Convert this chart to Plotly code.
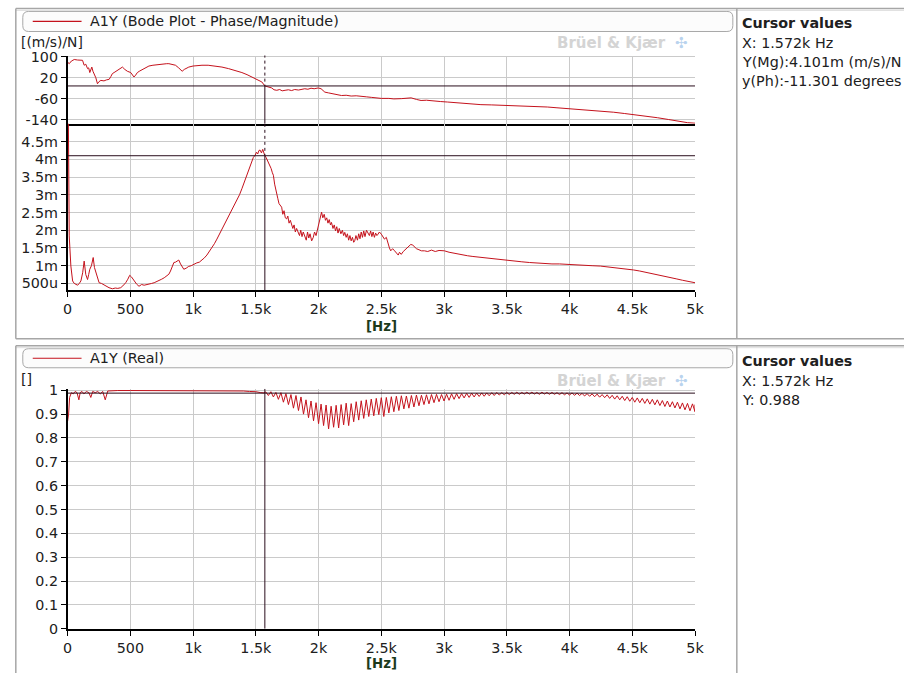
import plotly.graph_objects as go

# ---------------- DATA ----------------
x_tick_vals = [0, 500, 1000, 1500, 2000, 2500, 3000, 3500, 4000, 4500, 5000]
x_tick_text = ["0", "500", "1k", "1.5k", "2k", "2.5k", "3k", "3.5k", "4k", "4.5k", "5k"]

phase_tick_vals = [100, 20, -60, -140]
phase_tick_text = ["100", "20", "-60", "-140"]

mag_tick_vals = [0.5, 1.0, 1.5, 2.0, 2.5, 3.0, 3.5, 4.0, 4.5]
mag_tick_text = ["500u", "1m", "1.5m", "2m", "2.5m", "3m", "3.5m", "4m", "4.5m"]

real_tick_vals = [0, 0.1, 0.2, 0.3, 0.4, 0.5, 0.6, 0.7, 0.8, 0.9, 1.0]
real_tick_text = ["0", "0.1", "0.2", "0.3", "0.4", "0.5", "0.6", "0.7", "0.8", "0.9", "1"]

cursor_hz = 1572
cursor_mag = 4.101      # m (m/s)/N
cursor_phase = -11.301  # degrees
cursor_real = 0.988

phase_hz = [0, 13, 30, 53, 80, 100, 119, 132, 145, 159, 168, 177, 185, 193, 202, 211, 225, 238, 250, 265,
            290, 310, 331, 345, 357, 377, 397, 417, 437, 456, 476, 503, 515, 529, 542, 556, 575, 595, 620, 648,
            680, 710, 728, 760, 790, 807, 835, 860, 885, 900, 913, 930, 950, 966, 1000, 1040, 1071, 1120, 1177, 1230,
            1283, 1330, 1389, 1430, 1468, 1510, 1548, 1572, 1600, 1627, 1645, 1667, 1690, 1710, 1733, 1760, 1785, 1810,
            1840, 1865, 1890, 1915, 1940, 1965, 1997, 2020, 2050, 2080, 2110, 2140, 2183, 2220, 2260, 2300, 2341, 2380,
            2420, 2460, 2500, 2560, 2600, 2659, 2700, 2738, 2780, 2817, 2860, 2920, 2970, 3029, 3100, 3180, 3240, 3294,
            3380, 3460, 3558, 3650, 3740, 3823, 3900, 3990, 4087, 4170, 4260, 4352, 4440, 4530, 4616, 4700, 4790, 4881,
            4940, 5000]
phase_deg = [80, 74, 84, 90, 88, 86, 87, 68, 72, 55, 58, 40, 50, 61, 45, 36, 20, -3, 5, 10,
             8, 12, 14, 25, 36, 42, 48, 55, 61, 52, 45, 40, 32, 23, 30, 40, 46, 52, 58, 65,
             68, 70, 72, 73, 74, 74, 72, 68, 58, 50, 45, 52, 58, 61, 65, 67, 68, 68, 65, 61,
             55, 49, 40, 32, 23, 13, 4, -11.3, -15, -19, -26, -28, -25, -30, -28, -26, -29, -25,
             -27, -25, -22, -24, -20, -22, -19, -22, -35, -38, -41, -44, -48, -47, -50, -49, -50, -53,
             -55, -57, -59, -59, -61, -60, -58, -57, -63, -67, -66, -70, -71, -73, -76, -79, -81, -83,
             -84, -85, -86, -88, -90, -92, -95, -98, -101, -105, -108, -112, -117, -122, -127, -133, -140, -148,
             -152, -154]

mag_hz = [0, 13, 26, 40, 53, 66, 80, 93, 106, 120, 132, 145, 159, 168, 177, 190, 204, 214, 225, 238,
          251, 270, 290, 304, 330, 357, 380, 400, 423, 440, 463, 480, 495, 510, 529, 550, 569, 590, 610, 630,
          648, 670, 690, 710, 728, 750, 770, 790, 807, 820, 835, 847, 860, 872, 886, 900, 915, 926, 945, 965,
          985, 1005, 1030, 1050, 1071, 1090, 1110, 1130, 1151, 1170, 1190, 1210, 1230, 1250, 1270, 1290, 1310, 1330,
          1350, 1370, 1389, 1405, 1420, 1430, 1442, 1455, 1468, 1480, 1495, 1505, 1515, 1525, 1534, 1545, 1555, 1565,
          1572, 1582, 1592, 1601, 1612, 1622, 1632, 1640, 1650, 1660, 1667, 1675, 1685, 1695, 1706, 1715, 1725, 1735,
          1746, 1755, 1765, 1775, 1786, 1795, 1805, 1815, 1825, 1839, 1848, 1858, 1868, 1878, 1892, 1902, 1912, 1922,
          1932, 1945, 1958, 1968, 1980, 1992, 2005, 2015, 2024, 2034, 2045, 2055, 2065, 2075, 2085, 2095, 2103, 2115,
          2125, 2135, 2145, 2155, 2165, 2178, 2190, 2200, 2209, 2220, 2230, 2240, 2250, 2260, 2270, 2280, 2288, 2298,
          2310, 2320, 2330, 2340, 2350, 2360, 2370, 2382, 2394, 2405, 2415, 2425, 2435, 2445, 2455, 2465, 2474, 2485,
          2500, 2512, 2525, 2540, 2555, 2565, 2575, 2590, 2606, 2620, 2635, 2645, 2659, 2675, 2690, 2705, 2720, 2735,
          2751, 2765, 2780, 2800, 2820, 2844, 2870, 2900, 2930, 2960, 3003, 3040, 3080, 3120, 3150, 3188, 3230, 3280,
          3320, 3370, 3410, 3452, 3500, 3560, 3620, 3680, 3743, 3800, 3860, 3920, 4008, 4060, 4120, 4180, 4246, 4300,
          4360, 4420, 4510, 4560, 4620, 4680, 4749, 4800, 4850, 4900, 4950, 5000]
mag_m = [8.0, 1.84, 0.99, 0.57, 0.5, 0.47, 0.45, 0.5, 0.57, 0.8, 1.13, 0.75, 0.61, 0.75, 0.9, 1.0, 1.23, 0.95, 0.8, 0.62,
         0.52, 0.5, 0.46, 0.42, 0.38, 0.35, 0.37, 0.36, 0.38, 0.43, 0.52, 0.62, 0.73, 0.68, 0.57, 0.48, 0.42, 0.47, 0.45, 0.46,
         0.47, 0.5, 0.52, 0.55, 0.57, 0.62, 0.66, 0.72, 0.76, 0.85, 0.98, 1.09, 1.1, 1.12, 1.16, 1.05, 0.95, 0.9, 0.93, 0.98,
         1.0, 1.04, 1.08, 1.1, 1.16, 1.22, 1.3, 1.4, 1.51, 1.62, 1.75, 1.89, 2.03, 2.15, 2.3, 2.42, 2.55, 2.7,
         2.85, 3.0, 3.17, 3.32, 3.45, 3.58, 3.69, 3.8, 3.95, 4.05, 4.12, 4.2, 4.15, 4.25, 4.26, 4.18, 4.28, 4.12,
         4.10, 4.05, 3.98, 3.93, 3.85, 3.74, 3.62, 3.55, 3.3, 3.1, 2.98, 2.9, 2.75, 2.7, 2.65, 2.45, 2.55, 2.35,
         2.32, 2.4, 2.2, 2.28, 2.18, 2.05, 2.15, 1.95, 2.05, 1.94, 1.85, 2.0, 1.82, 1.95, 1.84, 1.72, 1.95, 1.78,
         1.9, 1.7, 1.8, 1.95, 1.85, 2.05, 2.2, 2.4, 2.51, 2.35, 2.45, 2.28, 2.35, 2.2, 2.3, 2.15, 2.22, 2.05,
         2.15, 1.98, 2.1, 1.92, 2.05, 1.9, 2.0, 1.85, 1.94, 1.8, 1.9, 1.72, 1.85, 1.7, 1.8, 1.66, 1.7, 1.85,
         1.72, 1.9, 1.76, 1.95, 1.8, 1.98, 1.82, 2.0, 1.94, 1.85, 1.98, 1.82, 1.95, 1.8, 1.92, 1.85, 1.89, 1.95,
         1.89, 1.82, 1.75, 1.8, 1.6, 1.5, 1.42, 1.48, 1.42, 1.35, 1.3, 1.38, 1.32, 1.4, 1.45, 1.5, 1.55, 1.6,
         1.58, 1.52, 1.48, 1.45, 1.42, 1.42, 1.4, 1.44, 1.4, 1.43, 1.42, 1.38, 1.35, 1.32, 1.3, 1.28, 1.26, 1.24,
         1.22, 1.2, 1.18, 1.16, 1.15, 1.13, 1.11, 1.09, 1.07, 1.06, 1.05, 1.05, 1.04, 1.03, 1.02, 1.0, 0.99, 0.97,
         0.95, 0.93, 0.88, 0.85, 0.8, 0.76, 0.71, 0.67, 0.63, 0.59, 0.56, 0.52]

# Real part: smooth low-frequency part, then a ripple (peak / trough pairs every 40 Hz)
real_low_hz = [0, 8, 16, 30, 45, 60, 75, 90, 100, 115, 130, 150, 170, 185, 200, 220, 240, 260, 280, 300,
               320, 350, 400, 500, 600, 700, 800, 900, 1000, 1100, 1200, 1300, 1400, 1450, 1500, 1540, 1565]
real_low = [0.87, 0.90, 0.97, 0.99, 0.985, 0.995, 0.99, 0.96, 0.99, 0.995, 0.985, 0.995, 0.99, 0.97, 0.995, 0.99, 0.995, 0.985, 0.995, 0.96,
            0.997, 0.998, 0.999, 0.999, 0.999, 0.999, 0.999, 0.999, 0.999, 0.998, 0.998, 0.998, 0.997, 0.995, 0.994, 0.99, 0.989]
real_peak_hz_start = 1580   # peaks every 40 Hz from here, troughs 20 Hz after each peak
real_ripple_step = 40
real_peak = [0.993, 0.994, 0.991, 0.990, 0.986, 0.982, 0.978, 0.972, 0.960, 0.955, 0.948, 0.942, 0.938, 0.933, 0.937, 0.940,
             0.946, 0.944, 0.952, 0.956, 0.960, 0.963, 0.966, 0.969, 0.970, 0.973, 0.975, 0.977, 0.976, 0.978, 0.980, 0.979,
             0.981, 0.982, 0.983, 0.982, 0.984, 0.985, 0.986, 0.986, 0.987, 0.988, 0.988, 0.989, 0.989, 0.990, 0.991, 0.990,
             0.991, 0.991, 0.992, 0.991, 0.992, 0.992, 0.991, 0.992, 0.991, 0.991, 0.990, 0.990, 0.989, 0.989, 0.988, 0.987,
             0.986, 0.985, 0.984, 0.982, 0.981, 0.979, 0.977, 0.975, 0.973, 0.970, 0.968, 0.966, 0.964, 0.962, 0.960, 0.957,
             0.955, 0.952, 0.950, 0.947, 0.945, 0.943]
real_trough = [0.978, 0.972, 0.962, 0.950, 0.940, 0.925, 0.915, 0.900, 0.885, 0.872, 0.860, 0.852, 0.838, 0.845, 0.842, 0.855,
               0.852, 0.868, 0.875, 0.882, 0.890, 0.893, 0.898, 0.890, 0.905, 0.910, 0.915, 0.922, 0.925, 0.930, 0.935, 0.940,
               0.943, 0.948, 0.952, 0.955, 0.958, 0.962, 0.965, 0.968, 0.970, 0.972, 0.974, 0.975, 0.977, 0.978, 0.980, 0.981,
               0.982, 0.983, 0.983, 0.984, 0.984, 0.984, 0.983, 0.984, 0.983, 0.983, 0.982, 0.981, 0.980, 0.979, 0.978, 0.976,
               0.975, 0.973, 0.971, 0.969, 0.966, 0.963, 0.960, 0.957, 0.954, 0.950, 0.948, 0.945, 0.942, 0.939, 0.936, 0.932,
               0.930, 0.926, 0.922, 0.918, 0.914, 0.910]
real_end_hz = 5000
real_end = 0.94

# ---------------- BUILD ----------------
real_hz = list(real_low_hz)
real_val = list(real_low)
for i, (p, t) in enumerate(zip(real_peak, real_trough)):
    f = real_peak_hz_start + i * real_ripple_step
    real_hz += [f, f + real_ripple_step / 2]
    real_val += [p, t]
real_hz.append(real_end_hz)
real_val.append(real_end)

W, H = 904, 673
# the captured picture is slightly scaled/offset relative to the page; compensate
SX, BX = 0.9886, 2.14
SY, BY = 0.974, 8.6
def px(x):
    return ((x - BX) / SX) / W
def py(y):
    return 1 - ((y - BY) / SY) / H

RED = "#c4121c"
CUR = "#2a0d1c"
GRID = "#cacaca"
FRAME = "#a6a6a6"
FONT = "DejaVu Sans"
FS = 14.3

PH_RANGE = [-156.5, 108.8]
MG_RANGE = [0.31, 5.0]
RE_RANGE = [0, 1.006]

fig = go.Figure()

fig.add_trace(go.Scatter(x=phase_hz, y=phase_deg, xaxis="x", yaxis="y", mode="lines",
                         line=dict(color=RED, width=1), hoverinfo="skip"))
fig.add_trace(go.Scatter(x=mag_hz, y=mag_m, xaxis="x2", yaxis="y2", mode="lines",
                         line=dict(color=RED, width=1), hoverinfo="skip"))
fig.add_trace(go.Scatter(x=real_hz, y=real_val, xaxis="x3", yaxis="y3", mode="lines",
                         line=dict(color=RED, width=1), hoverinfo="skip"))

def cursor(xa, ya, yval, yrange, dashed_above=True):
    fig.add_trace(go.Scatter(x=[0, 5000], y=[yval, yval], xaxis=xa, yaxis=ya, mode="lines",
                             line=dict(color=CUR, width=1), hoverinfo="skip"))
    if dashed_above:
        fig.add_trace(go.Scatter(x=[cursor_hz, cursor_hz], y=[yrange[1], yval], xaxis=xa, yaxis=ya,
                                 mode="lines", line=dict(color=CUR, width=1, dash="3px,3px"), hoverinfo="skip"))
        fig.add_trace(go.Scatter(x=[cursor_hz, cursor_hz], y=[yval, yrange[0]], xaxis=xa, yaxis=ya,
                                 mode="lines", line=dict(color=CUR, width=1), hoverinfo="skip"))
    else:
        fig.add_trace(go.Scatter(x=[cursor_hz, cursor_hz], y=[yrange[1], yrange[0]], xaxis=xa, yaxis=ya,
                                 mode="lines", line=dict(color=CUR, width=1), hoverinfo="skip"))

cursor("x", "y", cursor_phase, PH_RANGE)
cursor("x2", "y2", cursor_mag, MG_RANGE)
cursor("x3", "y3", cursor_real, RE_RANGE, dashed_above=False)

xdom = [px(65), px(695)]
tickfont = dict(family=FONT, size=FS, color="#202020")

def xax(anchor, labels=True):
    return dict(domain=xdom, range=[0, 5000], anchor=anchor, tickvals=x_tick_vals, ticktext=x_tick_text,
                showticklabels=labels, ticks="outside" if labels else "", ticklen=5, tickcolor="black",
                showgrid=True, gridcolor=GRID, gridwidth=1, showline=True, linecolor="black", linewidth=1.5,
                zeroline=False, tickfont=tickfont, fixedrange=True)

def yax(anchor, dom, rng, tv, tt):
    return dict(domain=dom, range=rng, anchor=anchor, tickvals=tv, ticktext=tt, ticks="outside",
                ticklen=5, tickcolor="black", showgrid=True, gridcolor=GRID, gridwidth=1, showline=True,
                linecolor="black", linewidth=1.5, zeroline=False, tickfont=tickfont, fixedrange=True)

fig.update_layout(
    width=W, height=H, margin=dict(l=0, r=0, t=0, b=0), autosize=False,
    paper_bgcolor="white", plot_bgcolor="white", showlegend=False,
    font=dict(family=FONT, size=FS, color="#202020"),
    xaxis=xax("y", labels=False),
    yaxis=yax("x", [py(125), py(57)], [-156.5, 105.0], phase_tick_vals, phase_tick_text),
    xaxis2=xax("y2"),
    yaxis2=yax("x2", [py(290.7), py(125)], MG_RANGE, mag_tick_vals, mag_tick_text),
    xaxis3=xax("y3"),
    yaxis3=yax("x3", [py(628), py(389)], RE_RANGE, real_tick_vals, real_tick_text),
)
PH_RANGE = [-156.5, 105.0]

shapes = []
def line(x0, y0, x1, y1, color=FRAME, width=1):
    shapes.append(dict(type="line", xref="paper", yref="paper", x0=px(x0), y0=py(y0), x1=px(x1), y1=py(y1),
                       line=dict(color=color, width=width), layer="above"))

def rounded(x0, y0, x1, y1, r=6):
    rx, ry = r / W, r / H
    X0, X1, Y0, Y1 = px(x0), px(x1), py(y0), py(y1)
    path = (f"M {X0+rx},{Y0} L {X1-rx},{Y0} Q {X1},{Y0} {X1},{Y0-ry} L {X1},{Y1+ry} Q {X1},{Y1} {X1-rx},{Y1} "
            f"L {X0+rx},{Y1} Q {X0},{Y1} {X0},{Y1+ry} L {X0},{Y0-ry} Q {X0},{Y0} {X0+rx},{Y0} Z")
    shapes.append(dict(type="path", xref="paper", yref="paper", path=path,
                       line=dict(color="#a8a8a8", width=1), fillcolor="#fcfcfc", layer="below"))

for top, bot in [(10, 339), (346, 700)]:
    line(13, top, 920, top, FRAME, 1.5)
    line(13, top + 2, 920, top + 2, "#dedede", 1)
    line(13, top, 13, bot, FRAME, 1.5)
    line(737, top, 737, bot, FRAME, 1.5)
    if bot < H:
        line(13, bot, 920, bot, FRAME, 1.5)

rounded(20, 13, 733, 33)
rounded(20, 349, 733, 368)
line(30, 23, 79, 23, RED, 1.2)
line(30, 358.5, 79, 358.5, RED, 1.2)

fig.update_layout(shapes=shapes)

ann = []
def text(x, y, s, size=FS, color="#202020", bold=False, xanchor="left"):
    ann.append(dict(x=px(x), y=py(y), xref="paper", yref="paper", text=f"<b>{s}</b>" if bold else s,
                    showarrow=False, xanchor=xanchor, yanchor="middle",
                    font=dict(family=FONT, size=size, color=color)))

text(85, 23, "A1Y (Bode Plot - Phase/Magnitude)")
text(85, 358.5, "A1Y (Real)")
text(16, 43.5, "[(m/s)/N]", size=13.8)
text(16, 379, "[]")
text(380, 327, "[Hz]", size=13.3, color="#1c3a1c", bold=True, xanchor="center")
text(380, 663, "[Hz]", size=13.3, color="#1c3a1c", bold=True, xanchor="center")
for wy in (44, 381):
    text(668, wy, "Brüel &amp; Kjær", size=15, color="#d4d4d4", bold=True, xanchor="right")
    text(681, wy, "✣", size=15, color="#b9d3ee", xanchor="center")

text(740, 25, "Cursor values", bold=True)
text(740, 44, "X: 1.572k Hz")
text(740, 63, "Y(Mg):4.101m (m/s)/N")
text(740, 82, "y(Ph):-11.301 degrees")
text(740, 361, "Cursor values", bold=True)
text(740, 381, "X: 1.572k Hz")
text(740, 400, "Y: 0.988")

fig.update_layout(annotations=ann)

fig.write_html("out.html")
